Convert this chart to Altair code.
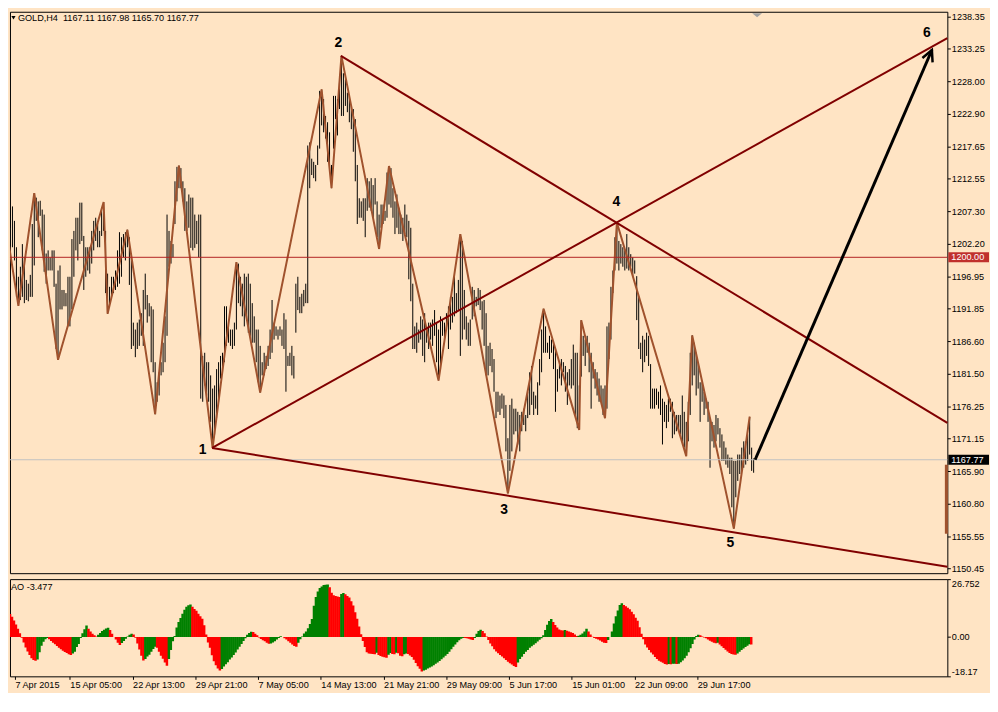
import math
import altair as alt
import pandas as pd

# ---------------- data ----------------
SYMBOL = "GOLD,H4"
LAST_OHLC = [1167.11, 1167.98, 1165.70, 1167.77]

HIGH = [
    1210.6, 1210.8, 1211.5, 1212.0, 1207.9, 1208.1, 1205.8, 1201.6, 1196.9, 1198.5,
    1202.1, 1200.0, 1196.4, 1195.8, 1197.2, 1205.3, 1210.2, 1209.5, 1208.9, 1209.0,
    1207.6, 1206.8, 1200.6, 1201.1, 1200.0, 1201.1, 1201.1, 1195.8, 1197.9, 1198.7,
    1194.8, 1194.8, 1194.3, 1196.9, 1196.9, 1202.9, 1204.2, 1206.3, 1206.3, 1208.7,
    1208.7, 1203.4, 1201.6, 1201.6, 1201.6, 1204.2, 1205.8, 1206.3, 1205.5, 1204.2,
    1207.6, 1208.8, 1204.2, 1197.4, 1195.3, 1196.9, 1196.9, 1197.9, 1201.1, 1204.0,
    1203.2, 1203.7, 1204.0, 1204.4, 1203.2, 1200.6, 1189.6, 1188.5, 1189.6, 1190.1,
    1191.1, 1194.8, 1197.4, 1194.0, 1192.7, 1192.2, 1191.7, 1183.3, 1180.1, 1181.7,
    1183.3, 1186.4, 1190.6, 1206.8, 1204.2, 1202.6, 1202.1, 1212.1, 1214.4, 1214.6,
    1214.2, 1212.1, 1211.0, 1208.9, 1210.0, 1209.5, 1209.5, 1206.8, 1205.8, 1206.8,
    1206.8, 1184.3, 1184.8, 1183.3, 1183.3, 1181.2, 1179.1, 1179.6, 1182.2, 1183.3,
    1184.3, 1184.8, 1192.2, 1192.2, 1189.6, 1188.5, 1188.5, 1189.6, 1199.2, 1199.0,
    1196.9, 1195.8, 1197.4, 1196.9, 1197.4, 1195.8, 1192.7, 1190.6, 1188.5, 1188.5,
    1185.9, 1183.3, 1184.8, 1184.3, 1185.9, 1188.5, 1193.2, 1189.6, 1189.0, 1188.5,
    1189.0, 1188.5, 1191.1, 1190.1, 1184.3, 1184.8, 1185.9, 1184.3, 1195.8, 1196.9,
    1193.7, 1194.2, 1194.8, 1195.8, 1217.8, 1218.3, 1215.7, 1215.2, 1214.7, 1217.8,
    1226.5, 1226.7, 1225.2, 1222.5, 1221.5, 1219.9, 1214.7, 1225.7, 1225.7, 1225.2,
    1227.8, 1232.1, 1229.3, 1228.3, 1226.2, 1225.7, 1224.1, 1223.6, 1222.0, 1214.7,
    1209.4, 1208.9, 1209.4, 1209.4, 1212.6, 1212.1, 1212.6, 1211.5, 1212.6, 1208.9,
    1206.8, 1208.4, 1208.4, 1207.4, 1213.5, 1214.5, 1214.2, 1211.0, 1208.9, 1210.0,
    1207.9, 1206.8, 1206.3, 1208.4, 1206.8, 1205.8, 1204.7, 1195.8, 1189.0, 1189.6,
    1188.5, 1190.6, 1190.1, 1191.1, 1189.0, 1189.6, 1189.6, 1190.1, 1191.6, 1189.6,
    1188.5, 1190.6, 1190.1, 1189.6, 1191.1, 1192.2, 1193.7, 1193.7, 1196.9, 1194.3,
    1196.4, 1203.7, 1202.6, 1194.8, 1190.6, 1189.6, 1190.1, 1195.3, 1194.8, 1193.7,
    1195.1, 1194.8, 1193.0, 1193.2, 1191.1, 1185.9, 1186.4, 1185.4, 1183.8, 1178.6,
    1178.6, 1178.0, 1178.3, 1178.0, 1176.5, 1171.2, 1176.5, 1177.5, 1175.9, 1175.9,
    1175.4, 1174.9, 1175.4, 1175.9, 1174.9, 1178.6, 1181.7, 1182.7, 1178.6, 1178.0,
    1180.1, 1183.8, 1188.5, 1191.8, 1189.0, 1186.4, 1187.5, 1186.9, 1186.4, 1185.4,
    1182.2, 1183.3, 1183.8, 1183.3, 1182.7, 1181.7, 1182.2, 1183.8, 1186.1, 1184.8,
    1184.8, 1179.6, 1190.0, 1187.5, 1186.9, 1187.5, 1186.4, 1184.8, 1183.3, 1182.2,
    1181.7, 1180.7, 1179.6, 1179.1, 1179.6, 1189.0, 1189.6, 1195.3, 1197.9, 1203.2,
    1205.5, 1202.6, 1202.1, 1201.6, 1201.1, 1203.7, 1201.6, 1200.5, 1200.0, 1199.5,
    1197.0, 1193.7, 1186.4, 1187.5, 1186.9, 1188.0, 1187.5, 1183.0, 1179.1, 1179.1,
    1179.1, 1178.6, 1179.6, 1177.5, 1177.0, 1176.5, 1177.5, 1177.5, 1177.0, 1175.4,
    1174.9, 1174.9, 1174.9, 1178.0, 1175.4, 1173.8, 1177.0, 1184.8, 1187.6, 1186.4,
    1184.8, 1183.3, 1180.1, 1180.1, 1178.6, 1177.5, 1177.0, 1174.4, 1173.8, 1173.3,
    1174.9, 1174.4, 1172.8, 1171.8, 1170.7, 1169.7, 1168.6, 1168.1, 1168.1, 1167.6,
    1167.6, 1168.6, 1168.6, 1169.7, 1170.7, 1170.7, 1171.8, 1174.6, 1169.7, 1167.98,
]

LOW = [
    1208.1, 1207.9, 1208.9, 1207.4, 1204.7, 1201.6, 1199.5, 1193.7, 1192.3, 1193.2,
    1193.7, 1192.7, 1193.2, 1193.0, 1193.7, 1193.7, 1198.7, 1205.8, 1203.2, 1206.6,
    1201.1, 1197.7, 1195.8, 1197.9, 1197.9, 1197.9, 1195.3, 1185.4, 1183.7, 1191.7,
    1191.7, 1192.2, 1192.2, 1189.0, 1189.0, 1191.7, 1196.9, 1201.1, 1199.5, 1202.1,
    1202.6, 1194.8, 1196.9, 1197.9, 1197.4, 1199.0, 1201.1, 1202.6, 1201.6, 1201.6,
    1203.4, 1204.2, 1194.3, 1191.0, 1192.7, 1193.7, 1194.3, 1194.8, 1195.3, 1195.8,
    1196.9, 1200.0, 1199.5, 1201.6, 1195.6, 1185.4, 1185.9, 1184.1, 1185.4, 1185.9,
    1187.5, 1185.9, 1191.7, 1189.6, 1190.6, 1183.3, 1181.7, 1175.0, 1177.0, 1178.0,
    1181.2, 1181.7, 1183.3, 1187.5, 1198.5, 1199.0, 1200.0, 1205.3, 1208.9, 1211.0,
    1211.0, 1208.9, 1204.2, 1204.2, 1204.7, 1201.5, 1201.1, 1201.5, 1202.1, 1200.0,
    1177.5, 1177.0, 1179.6, 1178.0, 1177.0, 1173.8, 1169.65, 1171.8, 1174.4, 1177.0,
    1180.7, 1181.7, 1183.3, 1185.9, 1186.4, 1185.9, 1185.4, 1185.9, 1188.5, 1192.7,
    1192.2, 1190.6, 1189.0, 1190.6, 1188.0, 1187.5, 1186.4, 1186.4, 1183.3, 1180.1,
    1178.45, 1181.2, 1181.2, 1182.2, 1182.7, 1183.8, 1184.8, 1186.9, 1187.5, 1186.9,
    1187.5, 1185.9, 1185.4, 1178.6, 1182.7, 1182.7, 1181.2, 1180.7, 1188.0, 1191.6,
    1191.1, 1191.1, 1192.2, 1192.7, 1192.7, 1211.0, 1213.1, 1212.6, 1212.1, 1214.7,
    1217.3, 1221.0, 1219.9, 1218.9, 1215.2, 1213.6, 1211.0, 1217.3, 1222.0, 1219.4,
    1223.6, 1222.5, 1222.5, 1224.1, 1223.1, 1221.5, 1220.4, 1216.8, 1212.1, 1205.3,
    1206.3, 1206.3, 1205.8, 1203.2, 1207.4, 1207.9, 1207.4, 1206.3, 1208.4, 1203.2,
    1201.3, 1204.7, 1205.3, 1205.8, 1206.3, 1208.4, 1207.9, 1206.3, 1203.7, 1204.7,
    1203.7, 1203.7, 1202.6, 1203.7, 1203.2, 1196.5, 1193.0, 1185.4, 1185.4, 1184.8,
    1186.4, 1186.9, 1184.3, 1183.3, 1186.4, 1185.4, 1186.9, 1185.9, 1187.5, 1183.3,
    1180.4, 1182.2, 1187.5, 1186.9, 1188.5, 1185.4, 1188.5, 1189.6, 1190.6, 1191.1,
    1191.6, 1184.3, 1186.9, 1188.5, 1186.9, 1185.9, 1185.9, 1190.1, 1190.6, 1192.2,
    1192.4, 1191.6, 1188.5, 1185.9, 1181.2, 1181.2, 1182.7, 1181.7, 1178.6, 1174.4,
    1175.4, 1174.9, 1175.9, 1174.4, 1169.1, 1162.4, 1166.0, 1169.1, 1171.8, 1172.3,
    1170.2, 1169.1, 1172.3, 1173.3, 1172.3, 1174.4, 1174.9, 1176.5, 1174.9, 1175.9,
    1174.9, 1179.6, 1181.7, 1184.8, 1184.8, 1184.8, 1183.8, 1184.8, 1182.2, 1175.4,
    1178.6, 1180.7, 1179.6, 1181.7, 1178.6, 1176.5, 1179.6, 1179.1, 1179.6, 1174.9,
    1172.8, 1172.5, 1181.0, 1184.3, 1182.7, 1184.8, 1181.7, 1175.9, 1180.7, 1179.1,
    1178.0, 1177.0, 1177.0, 1174.9, 1174.4, 1175.9, 1183.8, 1186.9, 1194.3, 1197.9,
    1199.0, 1197.9, 1199.0, 1198.5, 1197.9, 1198.2, 1197.9, 1198.5, 1196.9, 1197.4,
    1190.0, 1185.4, 1183.8, 1181.7, 1183.3, 1184.3, 1182.7, 1175.9, 1175.9, 1175.9,
    1176.5, 1175.9, 1174.9, 1170.2, 1173.8, 1172.8, 1173.8, 1175.4, 1171.2, 1171.8,
    1172.3, 1172.8, 1171.8, 1170.7, 1169.7, 1168.35, 1170.7, 1174.9, 1179.6, 1181.2,
    1178.0, 1179.1, 1173.8, 1177.0, 1174.9, 1175.9, 1173.8, 1166.5, 1170.7, 1169.7,
    1170.7, 1171.8, 1169.7, 1167.6, 1167.6, 1167.0, 1166.5, 1165.5, 1160.2, 1156.8,
    1161.8, 1164.4, 1165.5, 1166.0, 1166.5, 1167.0, 1167.6, 1168.6, 1166.0, 1165.70,
]

AO = [
    11.6, 10.6, 9.4, 7.6, 5.8, 3.8, 1.8, -0.3, -2.5, -4.8,
    -6.7, -8.3, -9.8, -10.6, -11.0, -10.4, -7.0, -4.0, -2.2, -1.0,
    -0.4, -1.0, -1.8, -2.6, -3.3, -4.1, -4.9, -5.6, -6.3, -6.9,
    -7.4, -8.0, -8.3, -7.6, -6.8, -4.6, -3.2, -0.4, 1.8, 3.6,
    5.3, 3.8, 2.6, 1.5, 0.8, 0.3, 1.0, 1.9, 2.8, 3.4,
    3.9, 4.3, 3.2, 1.5, 0.0, -1.2, -2.6, -3.7, -2.8, -1.8,
    -0.8, 0.2, 1.0, 1.5, 1.2, -0.3, -3.0, -5.8, -8.7, -10.9,
    -10.1, -9.0, -8.2, -6.8, -5.5, -4.5, -5.0, -6.8, -8.6, -10.0,
    -11.8, -13.3, -10.1, -6.0, -2.0, 0.5, 4.4, 6.9, 8.8, 10.8,
    12.6, 14.0, 14.7, 15.0, 14.0, 13.0, 12.2, 10.8, 9.6, 8.4,
    5.5, 1.2, -2.5, -5.0, -8.4, -11.2, -13.0, -14.6, -15.5, -14.8,
    -13.6, -12.6, -11.6, -10.4, -9.5, -8.3, -7.2, -5.8, -4.5, -3.2,
    -1.8, -0.6, 1.0, 1.9, 2.4, 2.3, 1.5, 0.8, -0.2, -0.9,
    -1.5, -2.0, -2.6, -3.1, -3.0, -2.5, -2.0, -1.2, -0.4, 0.4,
    0.0, -0.6, -1.1, -1.9, -2.6, -3.5, -4.2, -4.5, -2.6, -1.0,
    0.2, 1.6, 2.6, 4.0, 6.0, 8.3, 14.5, 18.5, 21.0, 22.6,
    23.4, 24.0, 24.2, 24.3, 23.0, 20.5, 19.3, 19.0, 18.7, 18.5,
    19.9, 20.4, 19.8, 19.0, 18.3, 16.5, 14.6, 11.5, 8.4, 4.9,
    1.3, -1.8, -4.6, -7.0, -7.6, -7.7, -7.8, -8.0, -7.3, -8.3,
    -8.8, -9.1, -9.4, -9.6, -8.2, -7.4, -7.8, -8.0, -7.3, -7.5,
    -8.6, -8.9, -8.0, -7.6, -7.9, -8.5, -9.2, -10.5, -12.0, -13.5,
    -14.7, -15.9, -15.5, -15.1, -14.6, -14.1, -13.6, -13.1, -12.4, -11.8,
    -11.1, -10.3, -9.5, -8.7, -7.8, -6.8, -5.6, -4.5, -3.4, -2.4,
    -1.5, -0.8, -0.4, -0.5, -0.6, -0.8, -1.2, -1.4, -0.4, 1.5,
    2.8, 3.4, 2.8, 1.7, 0.2, -1.4, -3.0, -4.3, -5.6, -6.7,
    -7.5, -8.3, -9.0, -9.8, -10.6, -11.4, -12.1, -12.7, -13.4, -13.8,
    -11.8, -10.1, -9.1, -7.9, -6.8, -6.0, -5.0, -4.3, -3.6, -2.9,
    -2.1, -1.3, -0.6, 0.8, 3.2, 5.7, 7.4, 8.3, 7.0, 5.6,
    4.4, 3.5, 3.1, 3.0, 3.2, 2.9, 2.6, 2.2, 1.9, 1.2,
    0.5, 0.6, 1.0, 1.6, 2.5, 3.8, 2.6, 1.2, 0.1, -0.5,
    -0.8, -1.2, -1.6, -2.2, -2.6, -2.8, -1.4, 0.0, 2.5, 6.3,
    9.6, 12.3, 14.8, 15.6, 14.8, 14.2, 13.5, 12.8, 11.7, 10.5,
    8.9, 7.5, 4.5, 1.5, -1.0, -3.5, -4.8, -6.0, -7.1, -8.1,
    -9.2, -10.2, -11.0, -11.4, -11.9, -12.5, -12.7, -12.5, -12.6, -12.4,
    -12.3, -12.5, -12.3, -11.6, -10.9, -9.8, -8.6, -7.0, -5.2, -3.2,
    -1.2, 0.5, 1.1, 0.8, 0.3, -0.2, -0.6, -1.1, -1.7, -2.2,
    -2.7, -2.9, -2.7, -3.4, -4.3, -5.1, -5.9, -6.7, -7.4, -7.8,
    -8.1, -8.2, -7.6, -6.8, -6.0, -5.3, -4.6, -4.0, -3.3, -3.477,
]

ZZ_BAR = [0, 8, 16, 28, 51, 53, 63, 77, 89, 106, 118, 130, 161, 166, 171, 190, 195,
          220, 231, 255, 273, 291, 292, 304, 310, 345, 348, 369, 377]
ZZ_PRICE = [1208.45, 1192.27, 1210.23, 1183.68, 1208.81, 1191.02, 1204.37, 1175.04,
            1214.58, 1169.65, 1199.23, 1178.45, 1226.72, 1211.00, 1232.06, 1201.34,
            1214.53, 1180.38, 1203.69, 1162.43, 1191.80, 1172.53, 1189.97, 1174.37,
            1205.52, 1168.35, 1187.56, 1156.82, 1174.63]

TREND_FROM_BAR = [106, 171, 106]
TREND_FROM_PRICE = [1169.65, 1232.06, 1169.65]
TREND_THRU_BAR = [310, 310, 477]
TREND_THRU_PRICE = [1205.52, 1205.52, 1150.72]

WAVE_TEXT = ["1", "2", "3", "4", "5", "6"]
WAVE_BAR = [101.2, 169.7, 253.3, 310.0, 367.5, 466.7]
WAVE_PRICE = [1169.39, 1234.06, 1159.71, 1208.81, 1154.47, 1235.74]

ARROW_BAR = [380.0, 469.2]
ARROW_PRICE = [1167.77, 1233.0]

LEVEL_PRICE = [1200.00, 1167.77]
AXIS_MARK_PRICE = [1166.98, 1155.99]
SHIFT_BAR = [381]

PRICE_TICKS = [1238.35, 1233.25, 1228.00, 1222.90, 1217.65, 1212.55, 1207.30, 1202.20,
               1196.95, 1191.85, 1186.60, 1181.50, 1176.25, 1171.15, 1165.90, 1160.80,
               1155.55, 1150.45]
AO_TICKS = [26.752, 0.0, -18.17]
AO_TICK_TEXT = ["26.752", "0.00", "-18.17"]
TIME_BARS = [0, 32, 64, 96, 128, 160, 192, 224, 256, 288, 320, 352]
TIME_TEXT = ["7 Apr 2015", "15 Apr 05:00", "22 Apr 13:00", "29 Apr 21:00", "7 May 05:00",
             "14 May 13:00", "21 May 21:00", "29 May 09:00", "5 Jun 17:00",
             "15 Jun 01:00", "22 Jun 09:00", "29 Jun 17:00"]

X_DOMAIN = [4, 477]
PRICE_DOMAIN = [1149.71, 1239.09]
AO_DOMAIN = [-18.17, 26.752]

# ---------------- style ----------------
BG = "#FFE4C4"
FONT = "Liberation Sans"
FS = 9.2
W, H_MAIN, H_AO = 945, 566, 98
ZZ_COLOR = "#A0522D"
TREND_COLOR = "#800000"

xs = alt.Scale(domain=X_DOMAIN, nice=False, zero=False)
ys = alt.Scale(domain=PRICE_DOMAIN, nice=False, zero=False)
aos = alt.Scale(domain=AO_DOMAIN, nice=False, zero=False)

price_axis = alt.Axis(orient="right", values=PRICE_TICKS, format=".2f", tickSize=3,
                      labelPadding=1, domain=False, grid=False, title=None,
                      labelFont=FONT, labelFontSize=FS, labelColor="black",
                      tickColor="black", labelFlush=False, labelOverlap=False,
                      labelBound=False, labelAlign="left", labelBaseline="middle")


def X(field="bar"):
    return alt.X(f"{field}:Q", scale=xs, axis=None)


def Y(field):
    return alt.Y(f"{field}:Q", scale=ys, axis=price_axis)


# invisible anchor so the chart origin lands on a whole pixel
anchor = alt.Chart(pd.DataFrame({"a": [0]})).mark_rect(opacity=0).encode(
    x=alt.value(-1), x2=alt.value(0), y=alt.value(100), y2=alt.value(101))

# price bars
bars_df = pd.DataFrame({"bar": list(range(len(HIGH))), "high": HIGH, "low": LOW})
bars = alt.Chart(bars_df).mark_rule(color="black", strokeWidth=1, xOffset=0.5, clip=True).encode(
    x=X(), y=Y("low"), y2="high:Q")

# zigzag
zz = alt.Chart(pd.DataFrame({"bar": ZZ_BAR, "price": ZZ_PRICE})).mark_line(
    color=ZZ_COLOR, strokeWidth=2, xOffset=0.5, clip=True).encode(
    x=X(), y=Y("price"), order="bar:Q")

# horizontal lines
lvl = alt.Chart(pd.DataFrame({"price": [LEVEL_PRICE[0]]})).mark_rule(
    color="#B22222", strokeWidth=1).encode(y=Y("price"))
bid = alt.Chart(pd.DataFrame({"price": [LEVEL_PRICE[1]]})).mark_rule(
    color="#C0C0C0", strokeWidth=1).encode(y=Y("price"))

# trend lines, extended to the right edge
rows = []
for i in range(len(TREND_FROM_BAR)):
    b0, p0 = TREND_FROM_BAR[i], TREND_FROM_PRICE[i]
    b1, p1 = TREND_THRU_BAR[i], TREND_THRU_PRICE[i]
    slope = (p1 - p0) / (b1 - b0)
    rows.append({"id": i, "bar": b0, "price": p0})
    rows.append({"id": i, "bar": X_DOMAIN[1], "price": p0 + slope * (X_DOMAIN[1] - b0)})
trend = alt.Chart(pd.DataFrame(rows)).mark_line(color=TREND_COLOR, strokeWidth=2).encode(
    x=X(), y=Y("price"), detail="id:N")

# arrow
arrow = alt.Chart(pd.DataFrame({"bar": ARROW_BAR, "price": ARROW_PRICE})).mark_line(
    color="black", strokeWidth=3).encode(x=X(), y=Y("price"))
px_x = W / (X_DOMAIN[1] - X_DOMAIN[0])
px_y = H_MAIN / (PRICE_DOMAIN[1] - PRICE_DOMAIN[0])
ang = math.degrees(math.atan2((ARROW_BAR[1] - ARROW_BAR[0]) * px_x,
                              (ARROW_PRICE[1] - ARROW_PRICE[0]) * px_y))
head = alt.Chart(pd.DataFrame({"bar": [ARROW_BAR[1]], "price": [ARROW_PRICE[1]]})).mark_point(
    shape="M -0.5 1 L 0 0 L 0.5 1", size=500, filled=False, color="black",
    strokeWidth=2.5, angle=ang, opacity=1).encode(x=X(), y=Y("price"))

# wave labels
waves = alt.Chart(pd.DataFrame({"bar": WAVE_BAR, "price": WAVE_PRICE, "t": WAVE_TEXT})).mark_text(
    font=FONT, fontSize=14, fontWeight="bold", color="black", align="center",
    baseline="middle").encode(x=X(), y=Y("price"), text="t:N")

# price labels on the axis
half = 5.0 / px_y
box_df = pd.DataFrame({"price": LEVEL_PRICE, "text": [f"{p:.2f}" for p in LEVEL_PRICE]})
box_df["top"] = box_df["price"] + half
box_df["bot"] = box_df["price"] - half
box_lvl = alt.Chart(box_df.iloc[[0]]).mark_rect(color="#C0302C").encode(
    x=alt.value(W + 1), x2=alt.value(W + 42), y=Y("top"), y2="bot:Q")
box_bid = alt.Chart(box_df.iloc[[1]]).mark_rect(color="#000000").encode(
    x=alt.value(W + 1), x2=alt.value(W + 42), y=Y("top"), y2="bot:Q")
box_txt = alt.Chart(box_df).mark_text(align="left", baseline="middle", font=FONT,
                                      fontSize=FS, color="white").encode(
    x=alt.value(W + 4), y=Y("price"), text="text:N")

axis_mark = alt.Chart(pd.DataFrame({"p0": [AXIS_MARK_PRICE[0]], "p1": [AXIS_MARK_PRICE[1]]})).mark_rule(
    color=ZZ_COLOR, strokeWidth=3).encode(x=alt.value(W - 1), y=Y("p0"), y2="p1:Q")

# header text
head_text = SYMBOL + "\u00a0\u00a0" + " ".join(f"{v:.2f}" for v in LAST_OHLC)
header = alt.Chart(pd.DataFrame({"t": [head_text]})).mark_text(
    align="left", baseline="top", font=FONT, fontSize=FS, color="black").encode(
    x=alt.value(8), y=alt.value(2), text="t:N")
header_tri = alt.Chart(pd.DataFrame({"t": [head_text]})).mark_point(
    shape="triangle-down", size=18, filled=True, color="black", opacity=1).encode(
    x=alt.value(3.5), y=alt.value(6))
shift = alt.Chart(pd.DataFrame({"bar": SHIFT_BAR})).mark_point(
    shape="M -1 -0.4 L 1 -0.4 L 0 0.4 Z", size=100, filled=True, color="#A0A0A0",
    opacity=1).encode(x=X(), y=alt.value(3.5))

main = alt.layer(anchor, bars, zz, lvl, bid, trend, arrow, head, waves, box_lvl, box_bid,
                 box_txt, axis_mark, header, header_tri, shift).properties(width=W, height=H_MAIN)

# ---------------- AO panel ----------------
ao_df = pd.DataFrame({"bar": list(range(len(AO))), "ao": AO})
ao_df["dir"] = ["up" if i > 0 and AO[i] > AO[i - 1] else "down" for i in range(len(AO))]
ao_df["zero"] = 0.0

tick_pos = [max(b, X_DOMAIN[0]) for b in TIME_BARS]
time_js = "[" + ",".join(f"'{t}'" for t in TIME_TEXT) + "]"
tbars_js = "[" + ",".join(str(b) for b in tick_pos) + "]"
time_axis = alt.Axis(values=tick_pos, labelExpr=f"{time_js}[indexof({tbars_js}, datum.value)]",
                     orient="bottom", tickSize=3, labelAlign="left", labelBaseline="top",
                     labelPadding=1, domain=False, grid=False, title=None, labelFont=FONT,
                     labelFontSize=FS, labelColor="black", tickColor="black",
                     labelFlush=False, labelOverlap=False, labelBound=False)
ao_js = "[" + ",".join(f"'{t}'" for t in AO_TICK_TEXT) + "]"
aot_js = "[" + ",".join(str(v) for v in AO_TICKS) + "]"
ao_axis = alt.Axis(orient="right", values=AO_TICKS,
                   labelExpr=f"{ao_js}[indexof({aot_js}, datum.value)]",
                   labelBaseline=alt.ExprRef(expr="datum.value > 1 ? 'top' : (datum.value < -1 ? 'bottom' : 'middle')"),
                   tickSize=3, labelPadding=1, domain=False, grid=False, title=None,
                   labelFont=FONT, labelFontSize=FS, labelColor="black", tickColor="black",
                   labelFlush=False, labelOverlap=False, labelBound=False, labelAlign="left")

ao_bars = alt.Chart(ao_df).mark_bar(size=2.5, xOffset=1, clip=True).encode(
    x=alt.X("bar:Q", scale=xs, axis=time_axis),
    y=alt.Y("ao:Q", scale=aos, axis=ao_axis),
    y2="zero:Q",
    color=alt.condition("datum.dir == 'up'", alt.value("#008000"), alt.value("#FF0000")))
ao_label = alt.Chart(pd.DataFrame({"t": [f"AO {AO[-1]:.3f}"]})).mark_text(
    align="left", baseline="middle", font=FONT, fontSize=FS, color="black").encode(
    x=alt.value(1), y=alt.value(8), text="t:N")

ao_chart = alt.layer(ao_bars, ao_label).properties(width=W, height=H_AO)

chart = alt.vconcat(main, ao_chart, spacing=3).properties(
    background=BG,
    padding=0,
).configure_view(stroke="black", strokeWidth=1)

chart.save("out.html", embed_options={"renderer": "svg", "actions": False})
